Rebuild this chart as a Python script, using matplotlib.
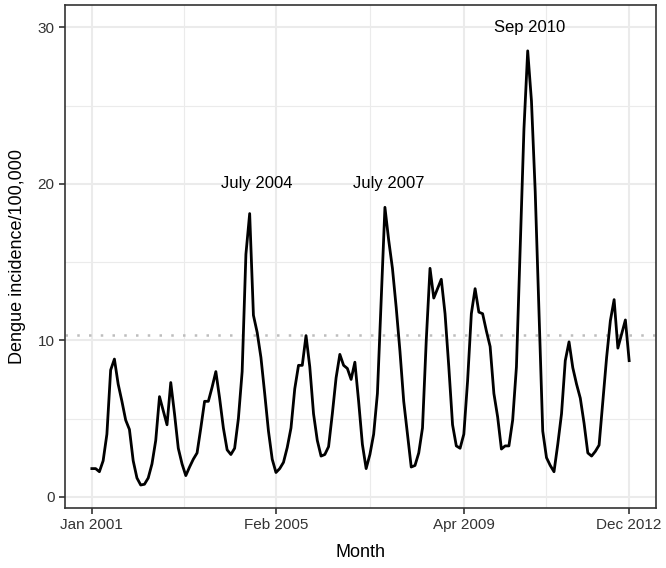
import numpy as np
import matplotlib
matplotlib.use('Agg')
import matplotlib.pyplot as plt

plt.rcParams['font.family'] = ['Liberation Sans', 'DejaVu Sans']

# monthly dengue incidence per 100,000, Jan 2001 .. Dec 2012
incidence = [
    1.8, 1.8, 1.6, 2.3, 4.0, 8.1, 8.8, 7.2, 6.1, 4.9, 4.3, 2.3,
    1.2, 0.75, 0.8, 1.2, 2.1, 3.6, 6.4, 5.5, 4.6, 7.3, 5.3, 3.1,
    2.1, 1.35, 1.9, 2.4, 2.8, 4.4, 6.1, 6.1, 7.0, 8.0, 6.3, 4.4,
    3.0, 2.7, 3.1, 5.0, 8.0, 15.5, 18.1, 11.6, 10.5, 8.9, 6.6, 4.2,
    2.4, 1.55, 1.8, 2.2, 3.15, 4.4, 6.9, 8.4, 8.4, 10.3, 8.3, 5.3,
    3.6, 2.6, 2.7, 3.2, 5.3, 7.6, 9.1, 8.4, 8.2, 7.5, 8.6, 6.1,
    3.35, 1.8, 2.7, 4.0, 6.6, 12.5, 18.5, 16.4, 14.6, 12.1, 9.3, 6.1,
    4.0, 1.9, 2.0, 2.8, 4.4, 10.0, 14.6, 12.7, 13.3, 13.9, 11.7, 8.3,
    4.6, 3.25, 3.1, 4.0, 7.4, 11.7, 13.3, 11.8, 11.7, 10.6, 9.6, 6.6,
    5.1, 3.05, 3.25, 3.25, 4.9, 8.3, 16.0, 23.5, 28.5, 25.3, 19.5, 11.8,
    4.2, 2.5, 2.0, 1.6, 3.35, 5.3, 8.7, 9.9, 8.25, 7.2, 6.3, 4.7,
    2.8, 2.6, 2.9, 3.3, 6.1, 8.9, 11.25, 12.6, 9.5, 10.4, 11.3, 8.7,
]
months = np.arange(len(incidence))

tick_pos = [0, 49, 99, 143]
tick_labels = ['Jan 2001', 'Feb 2005', 'Apr 2009', 'Dec 2012']
threshold = 10.35

peak_labels = ['July 2004', 'July 2007', 'Sep 2010']
peak_label_x = [43.9, 79.1, 116.5]
peak_label_y = [20, 20, 30]

fig, ax = plt.subplots(figsize=(6.66, 5.68), dpi=100)
fig.subplots_adjust(left=0.0976, right=0.985, top=0.992, bottom=0.1056)

ax.plot(months, incidence, color='black', lw=2.0, zorder=3)
ax.axhline(threshold, color='#bdbdbd', lw=1.8, ls=(0, (1, 3.7)), zorder=2)

for txt, x, y in zip(peak_labels, peak_label_x, peak_label_y):
    ax.text(x, y, txt, ha='center', va='center', fontsize=12, color='black')

ax.set_xlim(-7.15, 150.15)
ax.set_ylim(-0.72, 31.46)
ax.set_xticks(tick_pos)
ax.set_xticklabels(tick_labels)
ax.set_yticks([0, 10, 20, 30])
minor_x = [(a + b) / 2 for a, b in zip(tick_pos[:-1], tick_pos[1:])]
ax.set_xticks(minor_x, minor=True)
ax.set_yticks([5, 15, 25], minor=True)

ax.grid(True, which='major', color='#ebebeb', lw=1.5, zorder=0)
ax.grid(True, which='minor', color='#ebebeb', lw=0.8, zorder=0)
ax.set_axisbelow(True)
ax.tick_params(which='minor', length=0)
ax.tick_params(which='major', length=4.5, width=1.2, color='#333333',
               labelsize=11, labelcolor='#333333', pad=3)
for s in ax.spines.values():
    s.set_color('#333333')
    s.set_linewidth(1.2)

ax.set_xlabel('Month', fontsize=13, labelpad=8)
ax.set_ylabel('Dengue incidence/100,000', fontsize=13, labelpad=8)

plt.savefig('out.png', dpi=100)
